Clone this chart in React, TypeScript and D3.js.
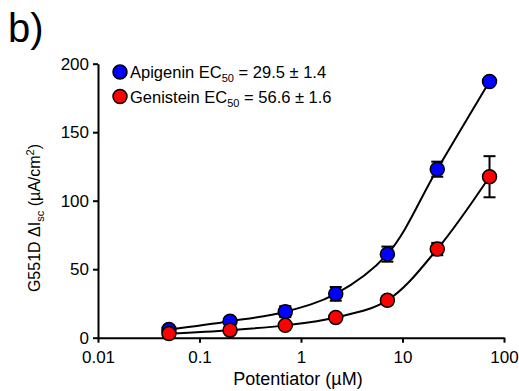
import React, { useEffect, useRef } from 'react';
import * as d3 from 'd3';

// concentrations (µM)
const conc = [0.05, 0.2, 0.7, 2.2, 7.1, 22, 72];
const apigenin = [6, 12, 19, 32, 61, 123, 187];
const apigeninErr = [1, 1.5, 4, 5, 5.5, 5.5, 2];
const genistein = [3, 5.5, 9, 14.8, 27.3, 64.7, 117.5];
const genisteinErr = [1, 1, 1.5, 1.5, 3, 4.5, 15];

const xTicks = [0.01, 0.1, 1, 10, 100];
const yTicks = [0, 50, 100, 150, 200];

const series = [
  { name: 'Apigenin', ec50: '29.5 ± 1.4', values: apigenin, errs: apigeninErr, color: '#0000ff' },
  { name: 'Genistein', ec50: '56.6 ± 1.6', values: genistein, errs: genisteinErr, color: '#ff0000' },
];

const FONT = "'Liberation Sans', Arial, sans-serif";

export default function App() {
  const ref = useRef<SVGSVGElement | null>(null);

  useEffect(() => {
    const svg = d3.select(ref.current);
    svg.selectAll('*').remove();

    const x = d3.scaleLog().domain([0.01, 100]).range([98, 504]);
    const y = d3.scaleLinear().domain([0, 200]).range([337.7, 63.7]);

    svg.append('text')
      .attr('x', 8).attr('y', 42)
      .attr('font-family', FONT).attr('font-size', 40)
      .text('b)');

    // x axis
    const xAxis = d3.axisBottom(x)
      .tickValues(xTicks)
      .tickFormat((d) => String(d))
      .tickSize(5)
      .tickSizeOuter(0)
      .tickPadding(8);
    const gx = svg.append('g').attr('transform', `translate(0,${y(0)})`).call(xAxis);
    gx.select('.domain').attr('stroke-width', 2);
    gx.selectAll('line').attr('stroke-width', 2);
    gx.selectAll('text').attr('font-family', FONT).attr('font-size', 17).attr('fill', '#000');

    // y axis
    const yAxis = d3.axisLeft(y)
      .tickValues(yTicks)
      .tickSize(5)
      .tickSizeOuter(0)
      .tickPadding(4);
    const gy = svg.append('g').attr('transform', `translate(${x(0.01)},0)`).call(yAxis);
    gy.select('.domain').attr('stroke-width', 2);
    gy.selectAll('line').attr('stroke-width', 2);
    gy.selectAll('text').attr('font-family', FONT).attr('font-size', 17).attr('fill', '#000');

    // axis titles
    svg.append('text')
      .attr('x', 298).attr('y', 385)
      .attr('text-anchor', 'middle')
      .attr('font-family', FONT).attr('font-size', 18)
      .text('Potentiator (µM)');

    const yl = svg.append('text')
      .attr('transform', 'translate(40,218) rotate(-90)')
      .attr('text-anchor', 'middle')
      .attr('font-family', FONT).attr('font-size', 16);
    yl.append('tspan').text('G551D ΔI');
    yl.append('tspan').attr('font-size', 11).attr('dy', 4).text('sc');
    yl.append('tspan').attr('dy', -4).text(' (µA/cm');
    yl.append('tspan').attr('font-size', 11).attr('dy', -6).text('2');
    yl.append('tspan').attr('dy', 6).text(')');

    const line = d3.line<number>()
      .x((_, i) => x(conc[i]))
      .y((d) => y(d))
      .curve(d3.curveCatmullRom.alpha(0.5));

    series.forEach((s) => {
      svg.append('path')
        .attr('d', line(s.values))
        .attr('fill', 'none')
        .attr('stroke', '#000')
        .attr('stroke-width', 2);

      const g = svg.append('g');
      s.values.forEach((v, i) => {
        const cx = x(conc[i]);
        const e = s.errs[i];
        g.append('line').attr('x1', cx).attr('x2', cx).attr('y1', y(v - e)).attr('y2', y(v + e))
          .attr('stroke', '#000').attr('stroke-width', 2);
        [v - e, v + e].forEach((w) => {
          g.append('line').attr('x1', cx - 6).attr('x2', cx + 6).attr('y1', y(w)).attr('y2', y(w))
            .attr('stroke', '#000').attr('stroke-width', 2);
        });
      });
      g.selectAll('circle.pt')
        .data(s.values)
        .join('circle')
        .attr('class', 'pt')
        .attr('cx', (_, i) => x(conc[i]))
        .attr('cy', (d) => y(d))
        .attr('r', 7)
        .attr('fill', s.color)
        .attr('stroke', '#000')
        .attr('stroke-width', 1.5);
    });

    // legend
    series.forEach((s, i) => {
      const ly = 72 + i * 24.5;
      svg.append('circle')
        .attr('cx', 120).attr('cy', ly).attr('r', 7)
        .attr('fill', s.color).attr('stroke', '#000').attr('stroke-width', 1.5);
      const t = svg.append('text')
        .attr('x', 130).attr('y', ly + 6)
        .attr('font-family', FONT).attr('font-size', 16.5);
      t.append('tspan').text(`${s.name} EC`);
      t.append('tspan').attr('font-size', 11).attr('dy', 4).text('50');
      t.append('tspan').attr('dy', -4).text(` = ${s.ec50}`);
    });
  }, []);

  return (
    <svg
      ref={ref}
      width={519}
      height={391}
      style={{ position: 'absolute', left: 0, top: 0, background: '#fff' }}
    />
  );
}
